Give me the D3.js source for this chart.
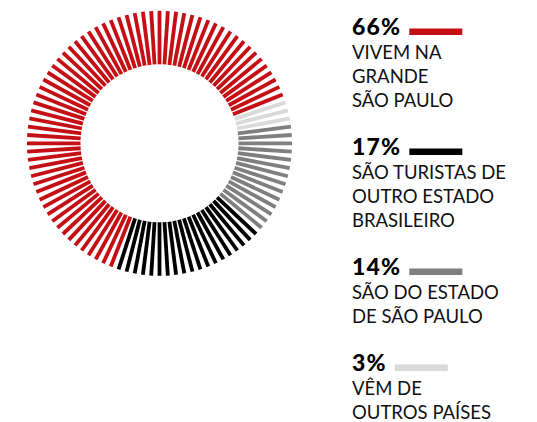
<!DOCTYPE html>
<html>
<head>
<meta charset="utf-8">
<script src="https://cdn.jsdelivr.net/npm/d3@7"></script>
<style>
  body { margin: 0; background: #fff; }
  svg { display: block; }
</style>
</head>
<body>
<div id="chart"></div>
<script>
// dados
const categorias = ['grande_sp', 'outro_estado', 'estado_sp', 'exterior'];
const percentuais = [66, 17, 14, 3];
// quantidade de tracinhos de cada categoria no anel (contados na imagem)
const tracinhos = [64, 19, 14, 3];
const rotulos = [
  ['VIVEM NA', 'GRANDE', 'SÃO PAULO'],
  ['SÃO TURISTAS DE', 'OUTRO ESTADO', 'BRASILEIRO'],
  ['SÃO DO ESTADO', 'DE SÃO PAULO'],
  ['VÊM DE', 'OUTROS PAÍSES']
];
// ordem dos tracinhos no anel, sentido horário
const ordemAnel = ['grande_sp', 'exterior', 'estado_sp', 'outro_estado'];

const width = 537, height = 422;
const cx = 159.5, cy = 143.3;
const rInner = 79, rOuter = 132.5;
const totalTicks = d3.sum(tracinhos);
const startTick = 56; // onde começa o vermelho

const color = d3.scaleOrdinal()
  .domain(categorias)
  .range(['#c40f14', '#000000', '#7f7f7f', '#dadada']);

const svg = d3.select('#chart').append('svg')
  .attr('width', width)
  .attr('height', height);

// monta os tracinhos em sequência
const nTicks = d => tracinhos[categorias.indexOf(d)];
const ticks = [];
ordemAnel.forEach(cat => {
  d3.range(nTicks(cat)).forEach(() => ticks.push({ cat: cat }));
});
ticks.forEach((t, i) => { t.k = (startTick + i) % totalTicks; });

const angle = d3.scaleLinear().domain([0, totalTicks]).range([0, 2 * Math.PI]);

const ring = svg.append('g').attr('transform', 'translate(' + cx + ',' + cy + ')');
ring.selectAll('line')
  .data(ticks)
  .enter()
  .append('line')
  .attr('x1', d => rInner * Math.sin(angle(d.k)))
  .attr('y1', d => -rInner * Math.cos(angle(d.k)))
  .attr('x2', d => rOuter * Math.sin(angle(d.k)))
  .attr('y2', d => -rOuter * Math.cos(angle(d.k)))
  .attr('stroke', d => color(d.cat))
  .attr('stroke-width', 3.8);

// legenda
const legX = 352;
const lineH = 24;
const groupGap = 48;
let y = 35;
const legend = svg.append('g');

categorias.forEach((cat, i) => {
  const g = legend.append('g');
  const num = g.append('text')
    .attr('x', legX)
    .attr('y', y)
    .attr('font-family', 'Lato, "DejaVu Sans", sans-serif')
    .attr('font-weight', 900)
    .attr('font-size', 23)
    .attr('letter-spacing', 1.2)
    .attr('fill', '#000')
    .text(percentuais[i] + '%');
  const w = num.node().getComputedTextLength();
  g.append('rect')
    .attr('x', legX + w + 8)
    .attr('y', y - 6.5)
    .attr('width', 53)
    .attr('height', 6.5)
    .attr('fill', color(cat));
  rotulos[i].forEach((r, j) => {
    g.append('text')
      .attr('x', legX)
      .attr('y', y + lineH * (j + 1))
      .attr('font-family', 'Lato, "DejaVu Sans", sans-serif')
      .attr('font-weight', 400)
      .attr('font-size', 18.5)
      .attr('fill', '#111')
      .text(r);
  });
  y += lineH * rotulos[i].length + groupGap;
});
</script>
</body>
</html>
